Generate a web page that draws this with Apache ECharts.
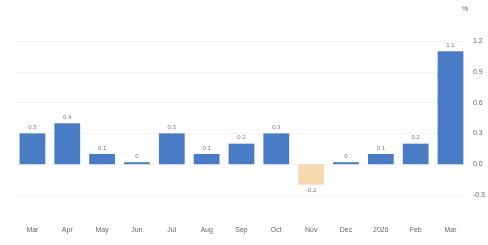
<!DOCTYPE html>
<html>
<head>
<meta charset="utf-8">
<script src="https://cdn.jsdelivr.net/npm/echarts@6/dist/echarts.min.js"></script>
<style>html,body{margin:0;padding:0;background:#fff}#main{width:488px;height:245px}</style>
</head>
<body>
<div id="main"></div>
<script>
// monthly change, %
var months = ['Mar', 'Apr', 'May', 'Jun', 'Jul', 'Aug', 'Sep', 'Oct', 'Nov', 'Dec', '2026', 'Feb', 'Mar'];
var values = [0.3, 0.4, 0.1, 0, 0.3, 0.1, 0.2, 0.3, -0.2, 0, 0.1, 0.2, 1.1];
var yTicks = [-0.3, 0.0, 0.3, 0.6, 0.9, 1.2];

var chart = echarts.init(document.getElementById('main'), null, { renderer: 'canvas' });

var option = {
  animation: false,
  grid: {
    left: 15,
    right: 15,
    top: 41,
    bottom: 50
  },
  xAxis: {
    type: 'category',
    data: months,
    axisLine: { show: false },
    axisTick: { show: false },
    axisLabel: {
      margin: 32,
      fontSize: 7,
      color: '#666',
      fontFamily: 'Arial'
    }
  },
  yAxis: {
    type: 'value',
    position: 'right',
    min: yTicks[0],
    max: yTicks[yTicks.length - 1],
    interval: 0.3,
    name: '%',
    nameGap: 28,
    nameTextStyle: { fontSize: 7, color: '#666', align: 'left', padding: [0, 0, 0, -6] },
    axisLabel: {
      margin: 5,
      fontSize: 7,
      color: '#666',
      fontFamily: 'Arial',
      formatter: function (v) { return v.toFixed(1); }
    },
    splitLine: { lineStyle: { color: '#f4f4f4' } }
  },
  series: [{
    type: 'bar',
    barWidth: '74%',
    barMinHeight: 2,
    data: values.map(function (v) {
      return {
        value: v,
        itemStyle: { color: v < 0 ? '#f6d9ae' : '#4a7cc6' },
        label: { position: v < 0 ? 'bottom' : 'top' }
      };
    }),
    label: {
      show: true,
      fontSize: 6,
      color: '#777',
      distance: 3,
      fontFamily: 'Arial',
      formatter: function (p) { return p.value === 0 ? '0' : String(p.value); }
    }
  }]
};

chart.setOption(option);
</script>
</body>
</html>
